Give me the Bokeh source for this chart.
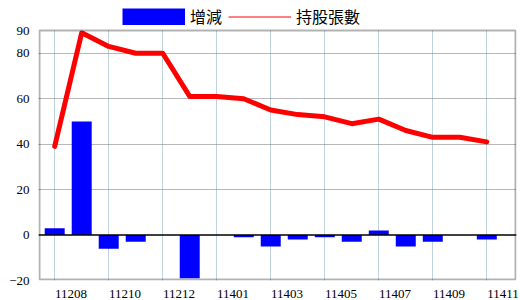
from bokeh.plotting import figure
from bokeh.models import (Legend, LegendItem, FixedTicker, Range1d, Span,
                          ColumnDataSource, CustomJSTickFormatter, BoxAnnotation)
from bokeh.embed import file_html
from bokeh.resources import INLINE

# ---- data ----
months = ["11208", "11209", "11210", "11211", "11212", "11312", "11401",
          "11402", "11403", "11404", "11405", "11406", "11407", "11408",
          "11409", "11410", "11411"]
change = [3, 50, -6, -3, 0, -19, 0, -1, -5, -2, -1, -3, 2, -5, -3, 0, -2]
holding = [39, 89, 83, 80, 80, 61, 61, 60, 55, 53, 52, 49, 51, 46, 43, 43, 41]
y_ticks = [-20, 0, 20, 40, 60, 80, 90]

Y_MIN, Y_MAX = -20, 90
X_MIN, X_MAX = -0.6, 17.1
FRAME_H = 280                 # frame reaches the top of the canvas (legend space)
PLOT_H = 250                  # pixel height of the -20..90 area
y_top = Y_MIN + (Y_MAX - Y_MIN) * FRAME_H / PLOT_H

xs = list(range(len(months)))
src = ColumnDataSource(dict(x=xs, change=change, holding=holding, month=months))

p = figure(width=520, height=300, output_backend="svg", toolbar_location=None,
           x_range=Range1d(X_MIN, X_MAX), y_range=Range1d(Y_MIN, y_top),
           min_border_left=38, min_border_right=4, min_border_top=0,
           min_border_bottom=20)
p.background_fill_color = "white"
p.border_fill_color = "white"
p.outline_line_color = None

# grids
p.ygrid.ticker = FixedTicker(ticks=[20, 40, 60, 80])
p.ygrid.grid_line_color = "#707070"
p.ygrid.grid_line_dash = "1 1"
p.ygrid.grid_line_width = 1
p.xgrid.ticker = FixedTicker(ticks=xs[::2])
p.xgrid.grid_line_color = "#7fa6ba"
p.xgrid.grid_line_dash = "1 1"
p.xgrid.grid_line_width = 1

bars = p.vbar(x="x", top="change", bottom=0, width=0.74, source=src,
              fill_color="#0000ff", line_color=None)
p.add_layout(Span(location=0, dimension="width", line_color="black", line_width=1.5))
line = p.line(x="x", y="holding", source=src, line_color="#ff0000", line_width=5,
              line_join="round", line_cap="round")

# white band above the plotting area (legend space) and the chart border
px_x = (X_MAX - X_MIN) / (520 - 38 - 4)
px_y = (Y_MAX - Y_MIN) / PLOT_H
p.add_layout(BoxAnnotation(bottom=Y_MAX, fill_color="white", fill_alpha=1,
                           line_color=None))
p.add_layout(BoxAnnotation(left=X_MIN + px_x, right=X_MAX - px_x,
                           bottom=Y_MIN + px_y, top=Y_MAX,
                           fill_alpha=0, line_color="black", line_width=2))

# legend proxies
leg_bar = p.line(x=[0, 0], y=[-100, -100], line_color="#0000ff", line_width=17, line_cap="butt")
leg_line = p.line(x=[0, 0], y=[-100, -100], line_color="#ff0000", line_width=1)

legend = Legend(items=[LegendItem(label="增減", renderers=[leg_bar]),
                       LegendItem(label="持股張數", renderers=[leg_line])],
                orientation="horizontal", location=(84, 252),
                glyph_width=63, glyph_height=17, label_standoff=5, spacing=6,
                padding=0, margin=0, border_line_color=None,
                background_fill_alpha=0,
                label_text_font="Noto Sans CJK TC", label_text_font_size="16px",
                label_text_color="black")
p.add_layout(legend, "center")

# axes
p.yaxis.ticker = FixedTicker(ticks=y_ticks)
p.yaxis.major_label_text_font = "Liberation Serif"
p.yaxis.major_label_text_font_size = "13px"
p.yaxis.major_label_text_color = "black"
p.yaxis.major_tick_line_color = None
p.yaxis.minor_tick_line_color = None
p.yaxis.major_label_standoff = 3
p.yaxis.axis_line_color = None

p.xaxis.ticker = FixedTicker(ticks=[i + 0.6 for i in xs[::2]])
p.xaxis.formatter = CustomJSTickFormatter(args=dict(labels=months),
                                          code="const i = Math.floor(tick); return labels[i] || '';")
p.xaxis.major_label_text_font = "Liberation Serif"
p.xaxis.major_label_text_font_size = "13px"
p.xaxis.major_label_text_color = "black"
p.xaxis.major_tick_line_color = None
p.xaxis.minor_tick_line_color = None
p.xaxis.major_label_standoff = 3
p.xaxis.axis_line_color = None

open("out.html", "w").write(file_html(p, INLINE))
